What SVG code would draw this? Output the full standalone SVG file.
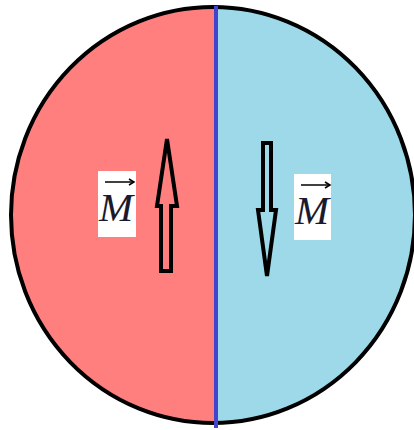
<svg xmlns="http://www.w3.org/2000/svg" width="414" height="430" viewBox="0 0 414 430">
<defs>
<clipPath id="cl"><rect x="0" y="0" width="216" height="430"/></clipPath>
<clipPath id="cr"><rect x="216" y="0" width="198" height="430"/></clipPath>
<style>
.arr{fill:none;stroke:#000;stroke-width:4;stroke-linejoin:miter}
.lbl{font-family:"Liberation Serif",serif;font-style:italic;font-size:39px;fill:#1a1a2e}
.vec{stroke:#000;stroke-width:1.5;fill:none}
</style>
</defs>
<rect width="414" height="430" fill="#fff"/>
<g id="disk">
<ellipse cx="213" cy="215" rx="202" ry="208" fill="#FF7F7F" clip-path="url(#cl)"/>
<ellipse cx="213" cy="215" rx="202" ry="208" fill="#9DD9E8" clip-path="url(#cr)"/>
<ellipse cx="213" cy="215" rx="202" ry="208" fill="none" stroke="#000" stroke-width="4"/>
</g>
<g id="wall"><line x1="216" y1="6" x2="216" y2="428" stroke="#4343CC" stroke-width="4"/></g>
<g id="arrow-up"><polygon class="arr" points="161,271 171,271 171,206 177,206 167,139 157,206 161,206"/></g>
<g id="arrow-down"><polygon class="arr" points="263,143 271,143 271,210 276,210 267,276 258,210 263,210"/></g>
<g id="label-left">
<rect x="98" y="171" width="38" height="66" fill="#fff"/>
<text class="lbl" x="99" y="221" textLength="34" lengthAdjust="spacingAndGlyphs">M</text>
<line class="vec" x1="105" y1="182" x2="133" y2="182"/><path class="vec" d="M129,179 L134,182 L129,185"/>
</g>
<g id="label-right">
<rect x="294" y="174" width="37" height="66" fill="#fff"/>
<text class="lbl" x="295" y="224" textLength="34" lengthAdjust="spacingAndGlyphs">M</text>
<line class="vec" x1="301" y1="185" x2="329" y2="185"/><path class="vec" d="M325,182 L330,185 L325,188"/>
</g>
</svg>
